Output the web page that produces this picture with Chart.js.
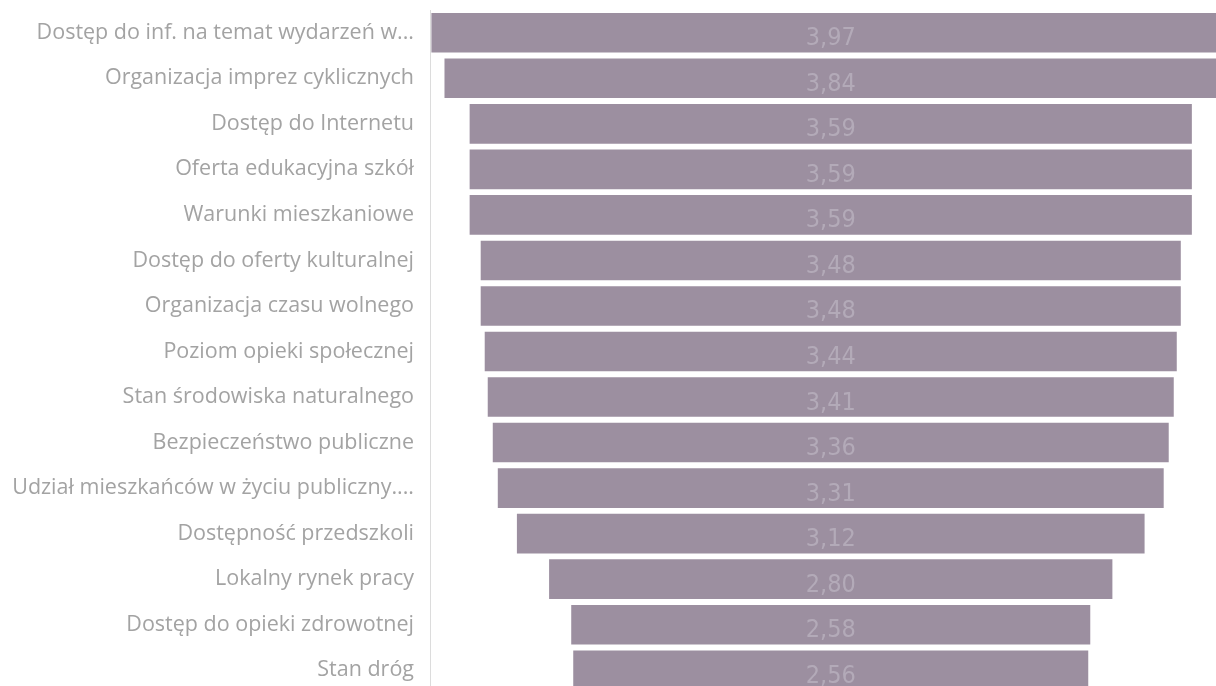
<!DOCTYPE html>
<html>
<head>
<meta charset="utf-8">
<script src="https://cdn.jsdelivr.net/npm/chart.js@4.4.1/dist/chart.umd.min.js"></script>
<style>
html,body{margin:0;padding:0;background:#fff;overflow:hidden;}
#wrap{width:1216px;height:693px;position:relative;}
</style>
</head>
<body>
<div id="wrap"><canvas id="c"></canvas></div>
<script>
const categories = [
  "Dostęp do inf. na temat wydarzeń w...",
  "Organizacja imprez cyklicznych",
  "Dostęp do Internetu",
  "Oferta edukacyjna szkół",
  "Warunki mieszkaniowe",
  "Dostęp do oferty kulturalnej",
  "Organizacja czasu wolnego",
  "Poziom opieki społecznej",
  "Stan środowiska naturalnego",
  "Bezpieczeństwo publiczne",
  "Udział mieszkańców w życiu publiczny....",
  "Dostępność przedszkoli",
  "Lokalny rynek pracy",
  "Dostęp do opieki zdrowotnej",
  "Stan dróg"
];
const values = [3.97, 3.84, 3.59, 3.59, 3.59, 3.48, 3.48, 3.44, 3.41, 3.36, 3.31, 3.12, 2.80, 2.58, 2.56];

const valueLabels = {
  id: 'valueLabels',
  afterDatasetsDraw(chart) {
    const ctx = chart.ctx;
    const meta = chart.getDatasetMeta(0);
    const xs = chart.scales.x;
    ctx.save();
    ctx.font = '25px "Liberation Sans Narrow", "DejaVu Sans Condensed", sans-serif';
    ctx.fillStyle = '#b3aab8';
    ctx.textAlign = 'center';
    ctx.textBaseline = 'middle';
    meta.data.forEach((bar, i) => {
      const txt = values[i].toFixed(2).replace('.', ',');
      ctx.fillText(txt, xs.getPixelForValue(0), bar.y + 6);
    });
    ctx.restore();
  }
};

new Chart(document.getElementById('c'), {
  type: 'bar',
  data: {
    labels: categories,
    datasets: [{
      data: values.map(v => [-v / 2, v / 2]),
      backgroundColor: '#9c8fa0',
      borderWidth: 0,
      barPercentage: 0.87,
      categoryPercentage: 1.0
    }]
  },
  options: {
    indexAxis: 'y',
    responsive: true,
    maintainAspectRatio: false,
    animation: false,
    layout: { padding: { top: 10, right: 0, bottom: 0, left: 0 } },
    plugins: { legend: { display: false }, tooltip: { enabled: false } },
    scales: {
      x: {
        display: false,
        min: -1.992,
        max: 1.915
      },
      y: {
        grid: { display: false },
        border: { display: true, color: '#dcdcdc', width: 1 },
        ticks: {
          color: '#a3a3a3',
          font: { family: '"Open Sans", "Noto Sans", sans-serif', size: 21.5 },
          padding: 8,
          autoSkip: false
        },
        afterFit(scale) {
          scale.width = 430;
          scale.paddingTop = 0;
          scale.paddingBottom = 0;
        }
      }
    }
  },
  plugins: [valueLabels]
});
</script>
</body>
</html>
